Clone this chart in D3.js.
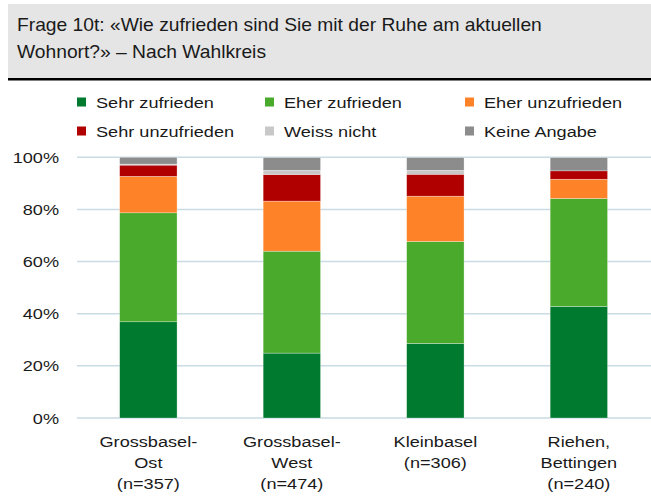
<!DOCTYPE html>
<html><head><meta charset="utf-8">
<script src="https://cdn.jsdelivr.net/npm/d3@7"></script>
<style>
html,body{margin:0;padding:0;background:#fff;}
svg text{font-family:"Liberation Sans",Arial,sans-serif;fill:#1a1a1a;}
</style></head>
<body><svg id="c" width="651" height="496"></svg>
<script>
const categories = [["Grossbasel-","Ost","(n=357)"],["Grossbasel-","West","(n=474)"],["Kleinbasel","(n=306)"],["Riehen,","Bettingen","(n=240)"]];
const seriesNames = ["Sehr zufrieden","Eher zufrieden","Eher unzufrieden","Sehr unzufrieden","Weiss nicht","Keine Angabe"];
const sehrZufrieden   = [36.9, 24.9, 28.6, 42.8];
const eherZufrieden   = [41.8, 39.1, 39.1, 41.4];
const eherUnzufrieden = [14.0, 19.2, 17.4, 7.4];
const sehrUnzufrieden = [4.3, 10.2, 8.4, 3.2];
const weissNicht      = [0.4, 1.6, 1.5, 0.0];
const keineAngabe     = [2.6, 4.9, 4.9, 5.1];
const colors = ["#007a2e","#4aaa2c","#fe8228","#b00000","#c8c8c8","#8c8c8c"];
const yTicks = [0,20,40,60,80,100];
const titleLines = ["Frage 10t: «Wie zufrieden sind Sie mit der Ruhe am aktuellen","Wohnort?» – Nach Wahlkreis"];

const SX = 1.17; // horizontal text stretch of the original
const svg = d3.select("#c");
function txt(g, x, y, s, size, anchor, sx){
  const t = g.append("text").attr("transform",`translate(${x},${y}) scale(${sx||SX},1)`)
    .attr("font-size",size).attr("text-anchor",anchor||"start").text(s);
  return t;
}

// title box
svg.append("rect").attr("x",8).attr("y",4).attr("width",643).attr("height",74).attr("fill","#e5e5e5");
svg.append("rect").attr("x",8).attr("y",78).attr("width",643).attr("height",2.5).attr("fill","#000");
titleLines.forEach((l,i)=>txt(svg,17,30.5+i*27,l,17.5,"start",1.1));

// legend
const legCols = [77,265,465];
seriesNames.forEach((n,i)=>{
  const c = i%3, r = Math.floor(i/3);
  const cy = 102 + r*29;
  svg.append("rect").attr("x",legCols[c]).attr("y",cy-4.5).attr("width",9).attr("height",9).attr("fill",colors[i]);
  txt(svg, legCols[c]+19, cy+6, n, 15.5);
});

// scales
const x = d3.scaleBand().domain(d3.range(categories.length)).range([76.6,650.6]).paddingInner(0.6).paddingOuter(0.3);
const y = d3.scaleLinear().domain([0,100]).range([418,157.3]);

// grid
svg.append("g").selectAll("line").data(yTicks).join("line")
  .attr("x1",77).attr("x2",651).attr("y1",d=>y(d)).attr("y2",d=>y(d))
  .attr("stroke","#c9dbe3").attr("stroke-width",1.5);
// y labels
yTicks.forEach(t=>txt(svg,59,y(t)+5.5,t+"%",15.5,"end"));

// stacked bars
const table = categories.map((c,i)=>({i, s0:sehrZufrieden[i], s1:eherZufrieden[i], s2:eherUnzufrieden[i], s3:sehrUnzufrieden[i], s4:weissNicht[i], s5:keineAngabe[i]}));
const stack = d3.stack().keys(["s0","s1","s2","s3","s4","s5"])(table);
svg.append("g").selectAll("g").data(stack).join("g").attr("fill",(d,i)=>colors[i])
  .selectAll("rect").data(d=>d).join("rect")
  .attr("x",d=>x(d.data.i)).attr("width",x.bandwidth())
  .attr("y",d=>y(d[1])).attr("height",d=>Math.max(0,y(d[0])-y(d[1])))
  .attr("stroke","#ffffff").attr("stroke-width",0.5).attr("stroke-opacity",0.6);

// category labels
categories.forEach((lines,i)=>{
  const cx = x(i)+x.bandwidth()/2;
  lines.forEach((l,j)=>txt(svg,cx,447+j*21,l,15.5,"middle"));
});
</script></body></html>
